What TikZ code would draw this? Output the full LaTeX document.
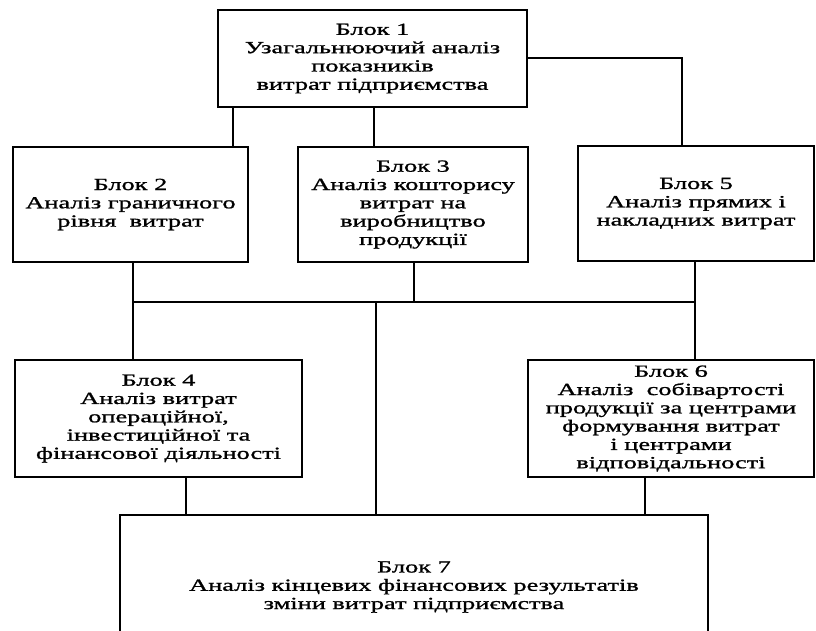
\documentclass[tikz,border=0pt]{standalone}
\usepackage{fontspec}
\setmainfont{Liberation Serif}[FakeStretch=1.55, FakeBold=1.2]
\newcommand{\blockfont}{\fontsize{17}{18.3}\selectfont}
\begin{document}
\begin{tikzpicture}[x=1pt, y=1pt,
  blk/.style={draw, line width=2pt, align=center, inner sep=0pt, font=\blockfont},
  link/.style={line width=2pt}]
\useasboundingbox (0,0) rectangle (816,-630);
\clip (0,0) rectangle (816,-630);

% blocks
\node[blk, minimum width=309, minimum height=97] (b1) at (372.5,-58.5)
  {Блок 1\\Узагальнюючий аналіз\\показників\\витрат підприємства};
\node[blk, minimum width=235, minimum height=115] (b2) at (130.5,-204.5)
  {Блок 2\\Аналіз граничного\\рівня\ \ витрат};
\node[blk, minimum width=230, minimum height=115] (b3) at (413,-204.5)
  {Блок 3\\Аналіз кошторису\\витрат на\\виробництво\\продукції};
\node[blk, minimum width=236, minimum height=115] (b5) at (696,-203.5)
  {Блок 5\\Аналіз прямих і\\накладних витрат};
\node[blk, minimum width=287, minimum height=117] (b4) at (158.5,-418.5)
  {Блок 4\\Аналіз витрат\\операційної,\\інвестиційної та\\фінансової діяльності};
\node[blk, minimum width=286, minimum height=117] (b6) at (671,-418.5)
  {Блок 6\\Аналіз\ \ собівартості\\продукції за центрами\\формування витрат\\і центрами\\відповідальності};
\node[blk, minimum width=588, minimum height=144] (b7) at (414,-587)
  {Блок 7\\Аналіз кінцевих фінансових результатів\\зміни витрат підприємства};

% junction points of the connectors
\coordinate (t2) at (233,-58);
\coordinate (t3) at (374,-58);
\coordinate (t5) at (682,-58);
\coordinate (busL) at (133,-302);
\coordinate (busM) at (376,-302);
\coordinate (busA) at (414,-302);
\coordinate (busR) at (695,-302);
\coordinate (d4) at (186,-480);
\coordinate (d6) at (645,-480);

% first level
\draw[link] (b1.south -| t2) -- (b2.north -| t2);
\draw[link] (b1.south -| t3) -- (b3.north -| t3);
\draw[link] (b1.east |- t5) -- (t5) -- (b5.north -| t5);

% collecting bus
\draw[link] (b2.south -| busL) -- (busL) -- (busR);
\draw[link] (b3.south -| busA) -- (busA);
\draw[link] (b5.south -| busR) -- (busR);

% second level
\draw[link] (busL) -- (b4.north -| busL);
\draw[link] (busR) -- (b6.north -| busR);
\draw[link] (busM) -- (b7.north -| busM);
\draw[link] (b4.south -| d4) -- (b7.north -| d4);
\draw[link] (b6.south -| d6) -- (b7.north -| d6);
\end{tikzpicture}
\end{document}
